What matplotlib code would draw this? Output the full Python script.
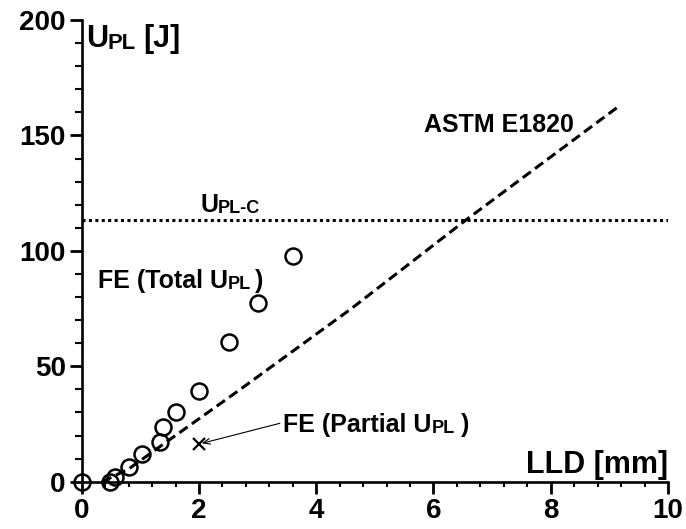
import matplotlib
matplotlib.use("Agg")
import matplotlib.pyplot as plt
from matplotlib.ticker import MultipleLocator

plt.rcParams['font.family'] = ['Liberation Sans', 'DejaVu Sans']
plt.rcParams['font.weight'] = 'bold'

# FE total plastic energy vs load-line displacement
fe_total_lld = [0, 0.49, 0.57, 0.80, 1.02, 1.33, 1.39, 1.60, 2.00, 2.51, 3.01, 3.60]
fe_total_upl = [0, 0, 2.2, 6.5, 12.0, 17.3, 23.6, 30.3, 39.2, 60.6, 77.3, 97.8]

# FE partial plastic energy (single point)
fe_partial_lld = [2.0]
fe_partial_upl = [16.3]

# ASTM E1820 curve
astm_lld = [0.35, 0.80, 1.35, 2.65, 4.60, 6.55, 9.18]
astm_upl = [0, 5.5, 15.5, 39.0, 75.0, 113.3, 163.0]

# critical plastic energy
upl_c = 113.3

SUB_SCALE = 0.72


def sub_label(ax, x, y, pieces, size):
    """Chain text pieces left to right; pieces are (text, is_sub, gap_pt)."""
    prev = ax.text(x, y, pieces[0][0], fontsize=size, fontweight='bold',
                   ha='left', va='baseline')
    first = prev
    for s, is_sub, gap in pieces[1:]:
        fs = size * SUB_SCALE if is_sub else size
        prev = ax.annotate(s, xy=(1, 0), xycoords=prev, xytext=(gap, 0),
                           textcoords='offset points', fontsize=fs,
                           fontweight='bold', ha='left', va='bottom')
    return first


fig = plt.figure(figsize=(6.86, 5.29), dpi=100)
ax = fig.add_axes([0.1191, 0.0894, 0.8547, 0.8728])

ax.axhline(upl_c, xmin=0, xmax=1, color='black', lw=2.2, linestyle=(0, (1, 1.1)))
ax.plot(astm_lld, astm_upl, color='black', lw=2.2, linestyle=(0, (3.3, 1.7)))
ax.plot(fe_total_lld, fe_total_upl, linestyle='none', marker='o', ms=11.5,
        mfc='none', mec='black', mew=1.8, clip_on=False, zorder=5)
ax.plot(fe_partial_lld, fe_partial_upl, linestyle='none', marker='x', ms=8,
        mec='black', mew=1.6, zorder=5)

ax.set_xlim(0, 10)
ax.set_ylim(0, 200)
ax.xaxis.set_major_locator(MultipleLocator(2))
ax.xaxis.set_minor_locator(MultipleLocator(0.4))
ax.yaxis.set_major_locator(MultipleLocator(50))
ax.yaxis.set_minor_locator(MultipleLocator(10))

for side in ['top', 'right']:
    ax.spines[side].set_visible(False)
for side in ['left', 'bottom']:
    ax.spines[side].set_linewidth(1.9)

ax.tick_params(which='major', direction='out', length=8.5, width=2, labelsize=20, pad=3)
ax.tick_params(axis='x', which='minor', direction='out', length=3.8, width=1.5)
ax.tick_params(axis='y', which='minor', direction='out', length=5, width=1.5)
for lab in ax.get_xticklabels() + ax.get_yticklabels():
    lab.set_fontweight('bold')

# axis titles sit inside the plot area
sub_label(ax, 0.07, 188.3, [('U', False, 0), ('PL', True, 0), ('[J]', False, 5)], 22)
ax.text(10, 3.6, 'LLD [mm]', fontsize=22, fontweight='bold',
        ha='right', va='baseline')

sub_label(ax, 2.02, 117, [('U', False, 0), ('PL-C', True, 0)], 18)
sub_label(ax, 0.28, 83.8,
          [('FE (Total U', False, 0), ('PL', True, 0), (')', False, 2.5)], 18)
ax.text(5.83, 151.6, 'ASTM E1820', fontsize=18, fontweight='bold',
        ha='left', va='baseline')
sub_label(ax, 3.44, 21.7,
          [('FE (Partial U', False, 0), ('PL', True, 0), (')', False, 4)], 18)
ax.annotate('', xy=(fe_partial_lld[0], fe_partial_upl[0]), xytext=(3.38, 25.3),
            arrowprops=dict(arrowstyle='->,head_length=0.5,head_width=0.2', lw=0.8,
                            color='black', shrinkA=0, shrinkB=2))

fig.savefig('out.png', dpi=100)
